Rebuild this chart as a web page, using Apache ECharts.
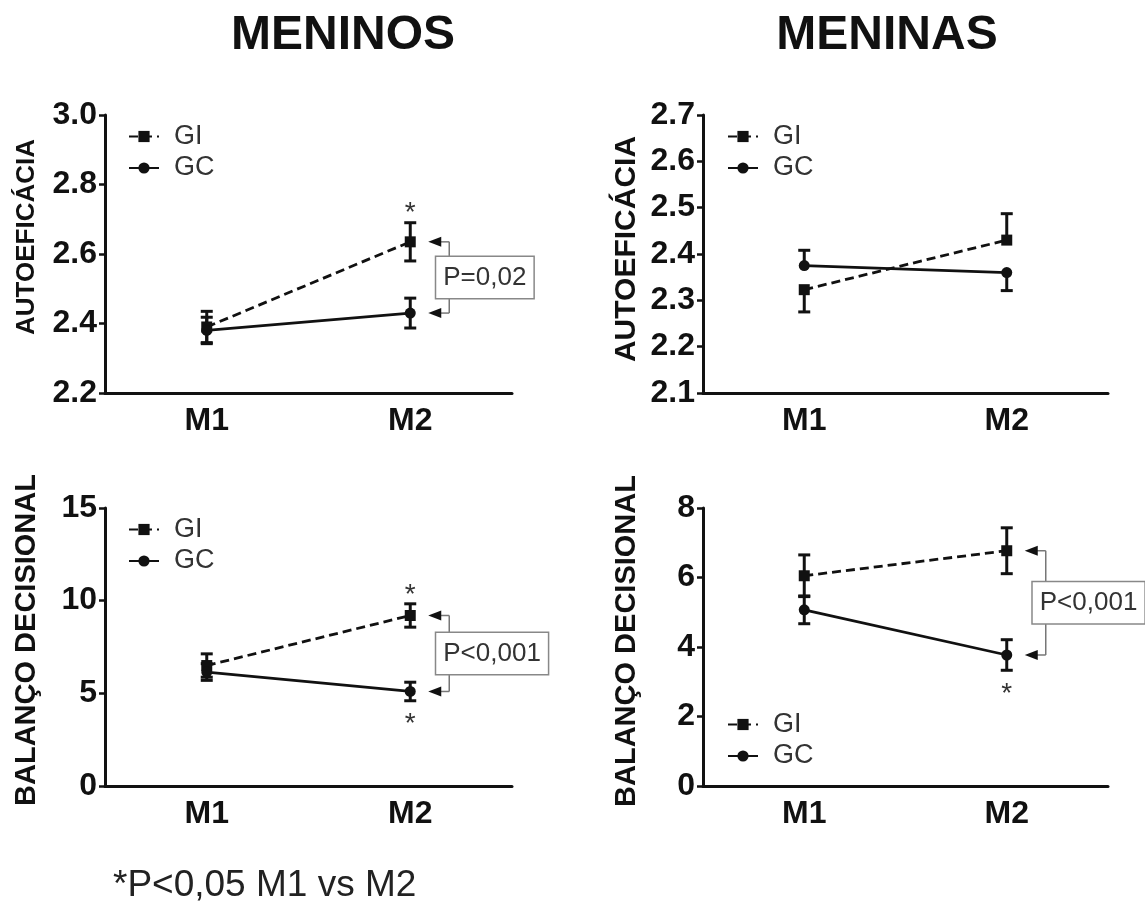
<!DOCTYPE html>
<html>
<head>
<meta charset="utf-8">
<script src="https://cdn.jsdelivr.net/npm/echarts@6/dist/echarts.min.js"></script>
<style>
  html, body { margin: 0; padding: 0; background: #fff; }
  #chart { width: 1145px; height: 903px; }
</style>
</head>
<body>
<div id="chart"></div>
<script>
const FONT = '"Liberation Sans", Arial, Helvetica, sans-serif';

// categories
const moments = ['M1', 'M2'];

// meninos - autoeficacia
const boysAutoGI = [2.39, 2.635];
const boysAutoGIErr = [0.045, 0.055];
const boysAutoGC = [2.38, 2.43];
const boysAutoGCErr = [0.038, 0.043];
const boysAutoGIStar = [0, 1];
const boysAutoGCStar = [0, 0];

// meninas - autoeficacia (one sided bars)
const girlsAutoGI = [2.323, 2.43];
const girlsAutoGIErr = [0.048, 0.057];
const girlsAutoGIDir = ['down', 'up'];
const girlsAutoGC = [2.375, 2.36];
const girlsAutoGCErr = [0.033, 0.039];
const girlsAutoGCDir = ['up', 'down'];

// meninos - balanco decisional
const boysBalGI = [6.5, 9.2];
const boysBalGIErr = [0.63, 0.63];
const boysBalGC = [6.15, 5.1];
const boysBalGCErr = [0.45, 0.5];
const boysBalGIStar = [0, 1];
const boysBalGCStar = [0, -1];

// meninas - balanco decisional
const girlsBalGI = [6.05, 6.77];
const girlsBalGIErr = [0.6, 0.66];
const girlsBalGC = [5.07, 3.77];
const girlsBalGCErr = [0.4, 0.44];
const girlsBalGCStar = [0, -1];

// axis ticks
const autoBoysTicks = { min: 2.2, max: 3.0, interval: 0.2 };
const autoGirlsTicks = { min: 2.1, max: 2.7, interval: 0.1 };
const balBoysTicks = { min: 0, max: 15, interval: 5 };
const balGirlsTicks = { min: 0, max: 8, interval: 2 };

// build [x, mean, low, high, star] rows for the error bars
function errorRows(means, errs, dirs, stars) {
  return means.map(function (m, i) {
    let dir = dirs ? dirs[i] : 'both';
    let lo = dir === 'up' ? m : m - errs[i];
    let hi = dir === 'down' ? m : m + errs[i];
    return [i, m, lo, hi, stars ? stars[i] : 0];
  });
}

function renderErrorBar(params, api) {
  let x = api.value(0);
  let mean = api.value(1);
  let lo = api.coord([x, api.value(2)]);
  let hi = api.coord([x, api.value(3)]);
  let star = api.value(4);
  let stroke = { stroke: '#111', lineWidth: 3 };
  let cap = 6;
  let children = [
    { type: 'line', shape: { x1: lo[0], y1: lo[1], x2: hi[0], y2: hi[1] }, style: stroke }
  ];
  if (api.value(2) < mean) {
    children.push({ type: 'line', shape: { x1: lo[0] - cap, y1: lo[1], x2: lo[0] + cap, y2: lo[1] }, style: stroke });
  }
  if (api.value(3) > mean) {
    children.push({ type: 'line', shape: { x1: hi[0] - cap, y1: hi[1], x2: hi[0] + cap, y2: hi[1] }, style: stroke });
  }
  if (star) {
    let sy = star > 0 ? hi[1] - 16 : lo[1] + 17;
    children.push({
      type: 'text', x: hi[0], y: sy + 7,
      style: { text: '*', font: '28px ' + FONT, fill: '#333', align: 'center', verticalAlign: 'middle' }
    });
  }
  return { type: 'group', children: children };
}

function bracketRender(label) {
  return function (params, api) {
    let a = api.coord([api.value(0), api.value(1)]);
    let b = api.coord([api.value(0), api.value(2)]);
    let tipX = a[0] + 18;
    let bx = a[0] + 39;
    let gray = { stroke: '#777', lineWidth: 1.5 };
    let els = [];
    [a, b].forEach(function (p) {
      els.push({ type: 'line', shape: { x1: tipX + 12, y1: p[1], x2: bx, y2: p[1] }, style: gray });
      els.push({ type: 'polygon', shape: { points: [[tipX, p[1]], [tipX + 13, p[1] - 5], [tipX + 13, p[1] + 5]] }, style: { fill: '#111' } });
    });
    els.push({ type: 'line', shape: { x1: bx, y1: a[1], x2: bx, y2: b[1] }, style: gray });
    els.push({
      type: 'text', x: bx - 13, y: (a[1] + b[1]) / 2,
      style: {
        text: label, font: '26px ' + FONT, fill: '#333', align: 'left', verticalAlign: 'middle',
        backgroundColor: '#fff', borderColor: '#888', borderWidth: 1.5, padding: [8, 7, 7, 7]
      }
    });
    return { type: 'group', children: els };
  };
}

const grids = [
  { left: 105, top: 115, width: 407, height: 278 },
  { left: 703, top: 115, width: 405, height: 278 },
  { left: 105, top: 508, width: 407, height: 278 },
  { left: 703, top: 508, width: 405, height: 278 }
];

const axisLine = { lineStyle: { color: '#111', width: 3 } };
const axisTick = { length: 6, lineStyle: { color: '#111', width: 2.5 } };

const xAxes = grids.map(function (g, i) {
  return {
    type: 'category', gridIndex: i, data: moments, boundaryGap: true,
    axisLine: axisLine, axisTick: Object.assign({ alignWithLabel: true }, axisTick),
    axisLabel: { fontFamily: FONT, fontSize: 32, fontWeight: 'bold', color: '#111', margin: 12 },
    splitLine: { show: false }
  };
});

function yAxis(i, ticks, decimals) {
  return {
    type: 'value', gridIndex: i, min: ticks.min, max: ticks.max, interval: ticks.interval,
    axisLine: Object.assign({ show: true }, axisLine), axisTick: Object.assign({ show: true }, axisTick),
    axisLabel: {
      fontFamily: FONT, fontSize: 32, fontWeight: 'bold', color: '#111', margin: 8,
      formatter: function (v) { return v.toFixed(decimals); }
    },
    splitLine: { show: false }
  };
}

const yAxes = [
  yAxis(0, autoBoysTicks, 1),
  yAxis(1, autoGirlsTicks, 1),
  yAxis(2, balBoysTicks, 0),
  yAxis(3, balGirlsTicks, 0)
];

function lineSeries(name, k, data) {
  let gi = name === 'GI';
  return {
    name: name, type: 'line', xAxisIndex: k, yAxisIndex: k, data: data,
    symbol: gi ? 'rect' : 'circle', symbolSize: 11,
    lineStyle: { color: '#111', width: 2.8, type: gi ? [9, 5] : 'solid' },
    itemStyle: { color: '#111' }, z: 3
  };
}

function errSeries(k, rows) {
  return {
    type: 'custom', xAxisIndex: k, yAxisIndex: k, renderItem: renderErrorBar,
    data: rows, z: 2, silent: true
  };
}

function bracketSeries(k, gi, gc, label) {
  return {
    type: 'custom', xAxisIndex: k, yAxisIndex: k, renderItem: bracketRender(label),
    data: [[1, gi[1], gc[1]]], z: 2, silent: true
  };
}

const series = [
  lineSeries('GI', 0, boysAutoGI), lineSeries('GC', 0, boysAutoGC),
  errSeries(0, errorRows(boysAutoGI, boysAutoGIErr, null, boysAutoGIStar)),
  errSeries(0, errorRows(boysAutoGC, boysAutoGCErr, null, boysAutoGCStar)),
  bracketSeries(0, boysAutoGI, boysAutoGC, 'P=0,02'),

  lineSeries('GI', 1, girlsAutoGI), lineSeries('GC', 1, girlsAutoGC),
  errSeries(1, errorRows(girlsAutoGI, girlsAutoGIErr, girlsAutoGIDir, null)),
  errSeries(1, errorRows(girlsAutoGC, girlsAutoGCErr, girlsAutoGCDir, null)),

  lineSeries('GI', 2, boysBalGI), lineSeries('GC', 2, boysBalGC),
  errSeries(2, errorRows(boysBalGI, boysBalGIErr, null, boysBalGIStar)),
  errSeries(2, errorRows(boysBalGC, boysBalGCErr, null, boysBalGCStar)),
  bracketSeries(2, boysBalGI, boysBalGC, 'P<0,001'),

  lineSeries('GI', 3, girlsBalGI), lineSeries('GC', 3, girlsBalGC),
  errSeries(3, errorRows(girlsBalGI, girlsBalGIErr, null, null)),
  errSeries(3, errorRows(girlsBalGC, girlsBalGCErr, null, girlsBalGCStar)),
  bracketSeries(3, girlsBalGI, girlsBalGC, 'P<0,001')
];

function legendAt(left, top) {
  return {
    data: ['GI', 'GC'], orient: 'vertical', left: left, top: top, padding: 0,
    itemWidth: 30, itemHeight: 14, itemGap: 4.5,
    textStyle: { fontFamily: FONT, fontSize: 27, lineHeight: 27, color: '#333', padding: [0, 0, 0, 10] },
    selectedMode: false
  };
}

const legends = [
  legendAt(128, 123),
  legendAt(727, 123),
  legendAt(128, 516),
  legendAt(727, 711)
];

function vTitle(text, x, y, size) {
  return {
    type: 'text', x: x, y: y, rotation: Math.PI / 2,
    style: { text: text, font: 'bold ' + size + 'px ' + FONT, fill: '#111', align: 'center', verticalAlign: 'middle' }
  };
}

const graphics = [
  { type: 'text', x: 343, y: 36, style: { text: 'MENINOS', font: 'bold 48px ' + FONT, fill: '#111', align: 'center', verticalAlign: 'middle' } },
  { type: 'text', x: 887, y: 36, style: { text: 'MENINAS', font: 'bold 48px ' + FONT, fill: '#111', align: 'center', verticalAlign: 'middle' } },
  vTitle('AUTOEFICÁCIA', 27, 237, 26),
  vTitle('AUTOEFICÁCIA', 627, 249, 30),
  vTitle('BALANÇO DECISIONAL', 27, 640, 29),
  vTitle('BALANÇO DECISIONAL', 627, 641, 29),
  { type: 'text', x: 113, y: 886, style: { text: '*P<0,05 M1 vs M2', font: '37px ' + FONT, fill: '#222', align: 'left', verticalAlign: 'middle' } }
];

let myChart = echarts.init(document.getElementById('chart'), null, { renderer: 'canvas' });
myChart.setOption({
  animation: false,
  backgroundColor: '#fff',
  grid: grids,
  xAxis: xAxes,
  yAxis: yAxes,
  legend: legends,
  series: series,
  graphic: graphics
});
</script>
</body>
</html>
